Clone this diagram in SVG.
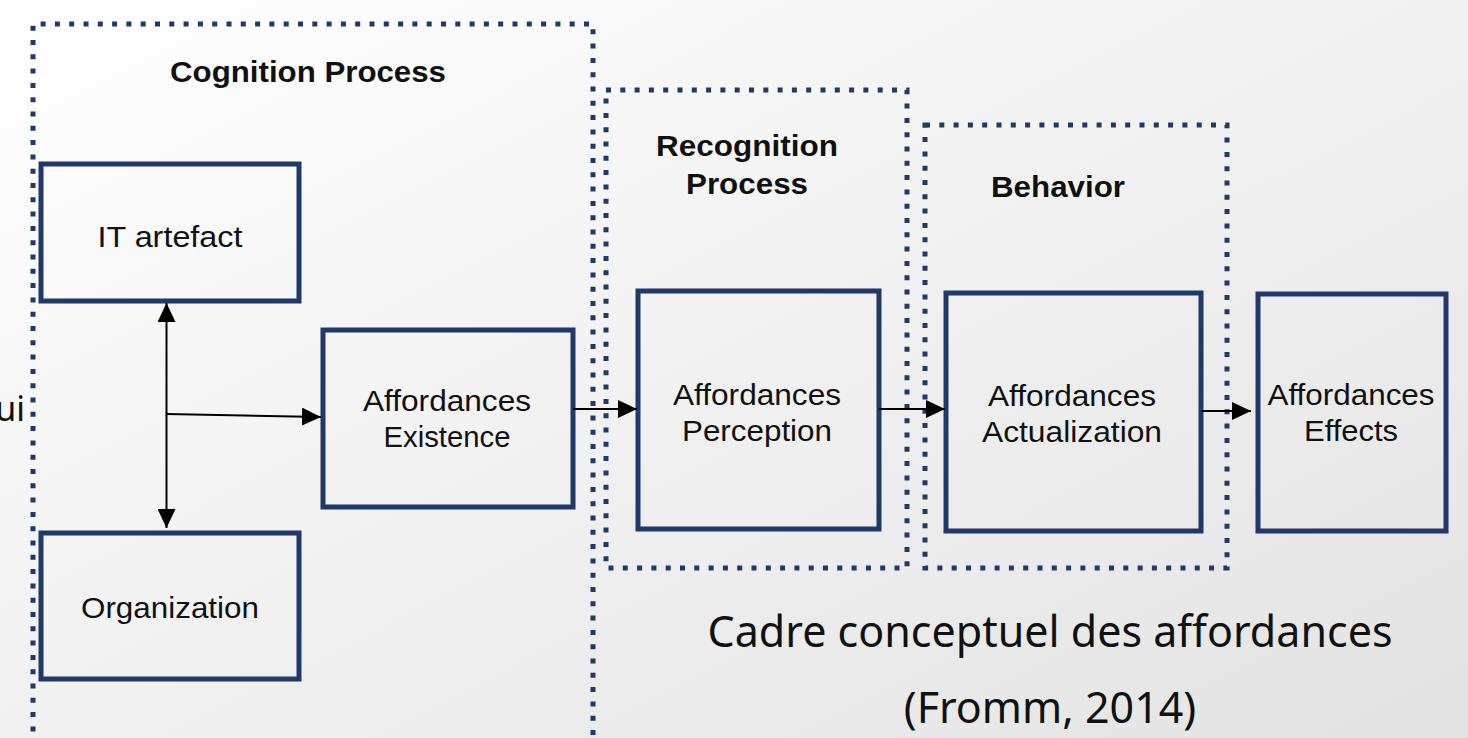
<svg xmlns="http://www.w3.org/2000/svg" width="1468" height="738" viewBox="0 0 1468 738">
  <defs>
    <linearGradient id="bg" x1="0" y1="0" x2="1" y2="1">
      <stop offset="0" stop-color="#ffffff"/>
      <stop offset="1" stop-color="#e3e3e3"/>
    </linearGradient>
    <marker id="ah" viewBox="0 0 19 18" refX="19" refY="9" markerWidth="19" markerHeight="18" markerUnits="userSpaceOnUse" orient="auto-start-reverse">
      <path d="M0,0 L19,9 L0,18 Z" fill="#000"/>
    </marker>
    <style>
      .grp { fill: none; stroke: #1f3a68; stroke-width: 5; stroke-dasharray: 5 9.3; }
      .box { fill: none; stroke: #1f3a68; stroke-width: 5; }
      .lbl { font-family: "Liberation Sans", Arial, sans-serif; font-size: 30px; fill: #111; text-anchor: middle; }
      .ttl { font-family: "Liberation Sans", Arial, sans-serif; font-size: 29px; font-weight: bold; fill: #111; text-anchor: middle; }
      .cap { font-family: "Noto Sans", "DejaVu Sans", sans-serif; font-size: 43px; fill: #111; text-anchor: middle; }
      .conn { fill: none; stroke: #000; stroke-width: 2; }
    </style>
  </defs>
  <rect x="0" y="0" width="1468" height="738" fill="url(#bg)"/>

  <g id="cognition-process">
    <path class="grp" d="M33,760 L33,24 L593,24 L593,760"/>
    <text class="ttl" x="308" y="82" textLength="276" lengthAdjust="spacingAndGlyphs">Cognition Process</text>
  </g>
  <g id="recognition-process">
    <rect class="grp" x="606" y="90" width="301" height="478"/>
    <text class="ttl" x="747" y="156" textLength="182" lengthAdjust="spacingAndGlyphs">Recognition</text>
    <text class="ttl" x="747" y="194" textLength="122" lengthAdjust="spacingAndGlyphs">Process</text>
  </g>
  <g id="behavior">
    <rect class="grp" x="925" y="125" width="302" height="443"/>
    <text class="ttl" x="1058" y="197" textLength="134" lengthAdjust="spacingAndGlyphs">Behavior</text>
  </g>

  <g id="it-artefact">
    <rect class="box" x="41" y="164" width="258" height="137"/>
    <text class="lbl" x="170" y="247" textLength="145" lengthAdjust="spacingAndGlyphs">IT artefact</text>
  </g>
  <g id="organization">
    <rect class="box" x="41" y="533" width="258" height="146"/>
    <text class="lbl" x="170" y="618" textLength="178" lengthAdjust="spacingAndGlyphs">Organization</text>
  </g>
  <g id="affordances-existence">
    <rect class="box" x="323" y="330" width="250" height="177"/>
    <text class="lbl" x="447" y="411" textLength="168" lengthAdjust="spacingAndGlyphs">Affordances</text>
    <text class="lbl" x="447" y="447" textLength="127" lengthAdjust="spacingAndGlyphs">Existence</text>
  </g>
  <g id="affordances-perception">
    <rect class="box" x="638" y="291" width="241" height="238"/>
    <text class="lbl" x="757" y="405" textLength="168" lengthAdjust="spacingAndGlyphs">Affordances</text>
    <text class="lbl" x="757" y="441" textLength="150" lengthAdjust="spacingAndGlyphs">Perception</text>
  </g>
  <g id="affordances-actualization">
    <rect class="box" x="946" y="293" width="255" height="238"/>
    <text class="lbl" x="1072" y="406" textLength="168" lengthAdjust="spacingAndGlyphs">Affordances</text>
    <text class="lbl" x="1072" y="442" textLength="180" lengthAdjust="spacingAndGlyphs">Actualization</text>
  </g>
  <g id="affordances-effects">
    <rect class="box" x="1258" y="294" width="188" height="237"/>
    <text class="lbl" x="1351" y="405" textLength="167" lengthAdjust="spacingAndGlyphs">Affordances</text>
    <text class="lbl" x="1351" y="441" textLength="94" lengthAdjust="spacingAndGlyphs">Effects</text>
  </g>

  <g id="connectors">
    <line class="conn" x1="166.5" y1="303" x2="166.5" y2="528" marker-start="url(#ah)" marker-end="url(#ah)"/>
    <line class="conn" x1="166.5" y1="414" x2="321" y2="417" marker-end="url(#ah)"/>
    <line class="conn" x1="573" y1="409" x2="637" y2="409" marker-end="url(#ah)"/>
    <line class="conn" x1="879" y1="409" x2="945" y2="409" marker-end="url(#ah)"/>
    <line class="conn" x1="1201" y1="411" x2="1251" y2="411" marker-end="url(#ah)"/>
  </g>

  <g id="caption">
    <text class="cap" x="25" y="421" style="font-size:34px;text-anchor:end">ui</text>
    <text class="cap" x="1050" y="647">Cadre conceptuel des affordances</text>
    <text class="cap" x="1050" y="723">(Fromm, 2014)</text>
  </g>
</svg>
